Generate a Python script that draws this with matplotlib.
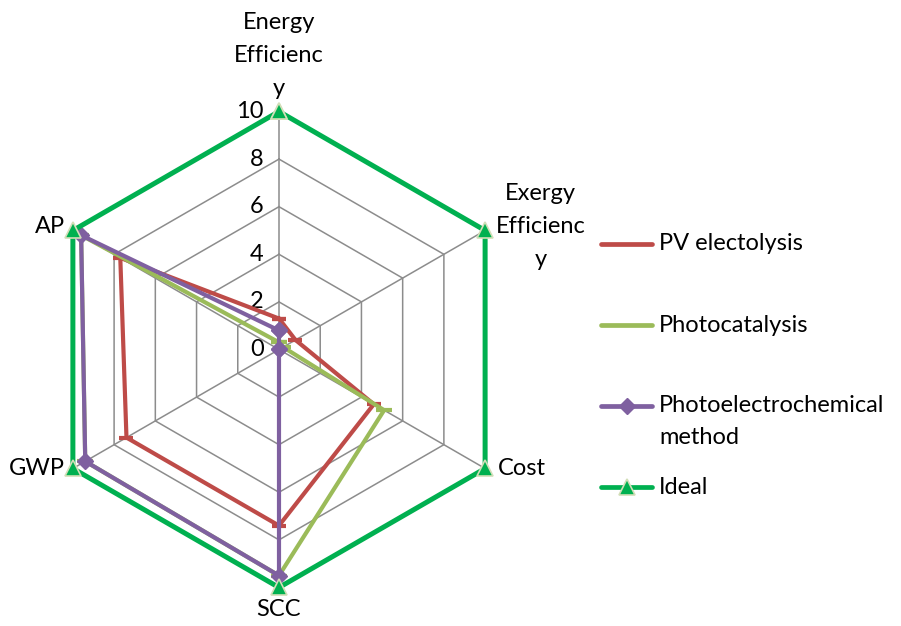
import numpy as np
import matplotlib
matplotlib.use("Agg")
import matplotlib.pyplot as plt
from matplotlib.lines import Line2D

plt.rcParams['font.family'] = ['Lato', 'DejaVu Sans']

categories = ["Energy\nEfficienc\ny", "Exergy\nEfficienc\ny", "Cost", "SCC", "GWP", "AP"]
pv_electrolysis = [1.3, 0.8, 4.6, 7.4, 7.4, 7.7]
photocatalysis = [0.3, 0.2, 5.1, 9.5, 9.4, 9.6]
photoelectrochemical = [0.8, 0.0, 0.0, 9.5, 9.4, 9.6]
ideal = [10, 10, 10, 10, 10, 10]
ticks = [0, 2, 4, 6, 8, 10]

series = [
    ("PV electolysis", pv_electrolysis, "#BE4B48", "_", 10),
    ("Photocatalysis", photocatalysis, "#9BBB59", "_", 11),
    ("Photoelectrochemical\nmethod", photoelectrochemical, "#7F60A0", "D", 8),
    ("Ideal", ideal, "#00B050", "^", 11),
]

fig = plt.figure(figsize=(9.01, 6.26), dpi=100)
ax = fig.add_axes([0.0455, 0.0615, 0.5283, 0.7604], projection="polar")
ax.set_theta_zero_location("N")
ax.set_theta_direction(-1)
ax.set_ylim(0, 10)
ax.grid(False)
ax.spines["polar"].set_visible(False)
ax.set_xticks([])
ax.set_yticks([])
ax.patch.set_alpha(0)

n = len(categories)
angles = np.arange(n) * 2 * np.pi / n
closed = np.append(angles, angles[0])

# hexagon grid
for r in ticks[1:]:
    ax.plot(closed, [r] * (n + 1), color="#8C8C8C", lw=1.1, zorder=1)
for a in angles:
    ax.plot([a, a], [0, 10], color="#8C8C8C", lw=1.1, zorder=1)

for t in ticks:
    ax.annotate(str(t), xy=(0, t), xytext=(-11, 0), textcoords="offset points",
                ha="right", va="center", fontsize=17)

for label, vals, col, mk, ms in series:
    v = vals + vals[:1]
    if mk == "^":
        ax.plot(closed, v, color=col, lw=3.6, marker=mk, ms=ms, mfc=col,
                mec="#D2DEB8", mew=1.2, zorder=5, clip_on=False)
    elif mk == "D":
        ax.plot(closed, v, color=col, lw=3.0, marker=mk, ms=ms, mfc=col,
                mec=col, zorder=4, clip_on=False)
    else:
        ax.plot(closed, v, color=col, lw=3.0, marker=mk, ms=ms, mec=col,
                mew=3, zorder=3, clip_on=False)

# category labels
label_pos = [
    ((0, 9), "center", "bottom"),
    ((40, 3), "center", "center"),
    ((9, 0), "left", "center"),
    ((0, -8), "center", "top"),
    ((-6, 0), "right", "center"),
    ((-6, 3), "right", "center"),
]
for a, txt, (off, ha, va) in zip(angles, categories, label_pos):
    ax.annotate(txt, xy=(a, 10), xytext=off, textcoords="offset points",
                ha=ha, va=va, fontsize=17, linespacing=1.7, annotation_clip=False)

# legend
lax = fig.add_axes([0, 0, 1, 1])
lax.set_xlim(0, 901)
lax.set_ylim(626, 0)
lax.axis("off")
leg_y = [244, 325, 406, 487]
for (label, vals, col, mk, ms), y in zip(series, leg_y):
    lax.add_line(Line2D([601, 652], [y, y], color=col, lw=3.4, solid_capstyle="round"))
    if mk == "D":
        lax.plot([626.5], [y], marker="D", ms=8, color=col)
    elif mk == "^":
        lax.plot([626.5], [y], marker="^", ms=11, mfc=col, mec="#D2DEB8", mew=1.2)
    for i, line in enumerate(label.split("\n")):
        lax.text(659, y + 32 * i, line, ha="left", va="center", fontsize=17)

fig.savefig("out.png", dpi=100)
